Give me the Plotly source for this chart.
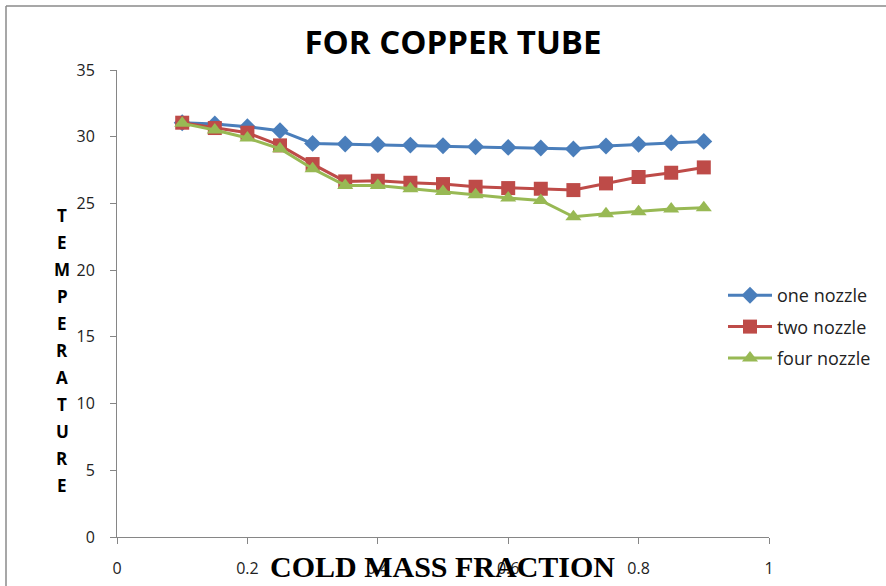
import plotly.graph_objects as go

# Cold mass fraction (x) and temperature readings for each nozzle arrangement
cold_mass_fraction = [0.10, 0.15, 0.20, 0.25, 0.30, 0.35, 0.40, 0.45, 0.50,
                      0.55, 0.60, 0.65, 0.70, 0.75, 0.80, 0.85, 0.90]
one_nozzle = [31.05, 30.95, 30.75, 30.45, 29.5, 29.45, 29.42, 29.37, 29.32,
              29.25, 29.2, 29.15, 29.08, 29.3, 29.43, 29.55, 29.65]
two_nozzle = [31.05, 30.65, 30.3, 29.35, 27.95, 26.65, 26.7, 26.55, 26.45,
              26.25, 26.15, 26.1, 26.0, 26.5, 26.98, 27.3, 27.7]
four_nozzle = [31.0, 30.5, 29.9, 29.1, 27.6, 26.35, 26.35, 26.1, 25.9,
               25.65, 25.4, 25.22, 24.0, 24.22, 24.38, 24.58, 24.68]

series_names = ["one nozzle", "two nozzle", "four nozzle"]
series_colors = ["#4A7EBB", "#BE4B48", "#98B954"]
series_symbols = ["diamond", "square", "triangle-up"]
series_sizes = [13, 14, 14]

x_ticks = [0, 0.2, 0.4, 0.6, 0.8, 1]
x_tick_text = ["0", "0.2", "0.4", "0.6", "0.8", "1"]
y_ticks = [0, 5, 10, 15, 20, 25, 30, 35]

title_text = "FOR COPPER TUBE"
x_title = "COLD MASS FRACTION"
y_title = "TEMPERATURE"

fig = go.Figure()
for i, (name, ys) in enumerate(zip(series_names, [one_nozzle, two_nozzle, four_nozzle])):
    fig.add_trace(go.Scatter(
        x=cold_mass_fraction, y=ys, name=name, mode="lines+markers",
        legendgroup=name,
        line=dict(color=series_colors[i], width=3),
        marker=dict(symbol=series_symbols[i], size=series_sizes[i],
                    color=series_colors[i]),
    ))

L, R, T, B = 117, 117, 70, 49
W, H = 886, 586
pw, ph = W - L - R, H - T - B

axis_common = dict(
    showgrid=False, zeroline=False, showline=True, linecolor="#868686",
    linewidth=1, ticks="outside", ticklen=6, tickcolor="#868686",
    automargin=False,
    tickfont=dict(family="Open Sans", size=16, color="#222222"),
)

fig.update_layout(
    width=W, height=H,
    margin=dict(l=L, r=R, t=T, b=B, autoexpand=False),
    paper_bgcolor="white", plot_bgcolor="white",
    title=dict(text="<b>" + title_text + "</b>", x=453 / W, xanchor="center",
               y=1 - 42 / H, yanchor="middle",
               font=dict(family="Open Sans", size=33, color="black")),
    xaxis=dict(range=[0, 1], tickvals=x_ticks, ticktext=x_tick_text,
               ticklabelstandoff=11, **axis_common),
    yaxis=dict(range=[0, 35], tickvals=y_ticks, ticklabelstandoff=12,
               **axis_common),
    legend=dict(x=(723 - L) / pw, y=(H - B - 277) / ph, xanchor="left",
                yanchor="top", tracegroupgap=5, itemwidth=44,
                bgcolor="rgba(0,0,0,0)",
                font=dict(family="Open Sans", size=18, color="#222222")),
    showlegend=True,
)

# x axis title, drawn over the tick label row
fig.add_annotation(
    text="<b>" + x_title + "</b>", xref="paper", yref="paper",
    x=(442 - L) / pw, y=-(566 - (H - B)) / ph, xanchor="center", yanchor="middle",
    showarrow=False, font=dict(family="Liberation Serif", size=30, color="black"),
)

# vertical stacked y axis title, one letter per row
for k, ch in enumerate(y_title):
    ypix = 215 + 27 * k
    fig.add_annotation(
        text="<b>" + ch + "</b>", xref="paper", yref="paper",
        x=(62 - L) / pw, y=(H - B - ypix) / ph, xanchor="center",
        yanchor="middle", showarrow=False,
        font=dict(family="Open Sans", size=17, color="black"),
    )

# chart frame along the top and left edges
fx = (6 - L) / pw
fy = (H - B - 6) / ph
fig.add_shape(type="line", xref="paper", yref="paper", x0=fx, x1=(W + 10 - L) / pw,
              y0=fy, y1=fy, line=dict(color="#8a8a8a", width=1.5))
fig.add_shape(type="line", xref="paper", yref="paper", x0=fx, x1=fx,
              y0=fy, y1=-(B + 10) / ph, line=dict(color="#8a8a8a", width=1.5))

fig.write_html("out.html")
